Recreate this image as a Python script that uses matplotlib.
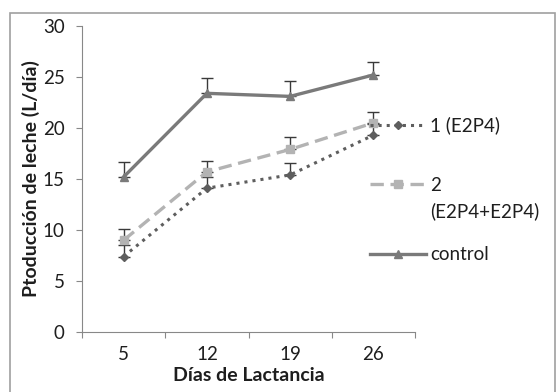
import matplotlib.pyplot as plt
import matplotlib.patches as patches
import numpy as np

plt.rcParams['font.family'] = ['Lato', 'DejaVu Sans']

dias = ["5", "12", "19", "26"]
trat1 = [7.4, 14.1, 15.4, 19.3]
trat1_err = [1.1, 1.1, 1.2, 1.1]
trat2 = [9.0, 15.7, 17.9, 20.5]
trat2_err = [1.1, 1.1, 1.2, 1.1]
control = [15.2, 23.4, 23.1, 25.2]
control_err = [1.5, 1.5, 1.5, 1.3]

x = np.arange(len(dias))

fig = plt.figure(figsize=(5.59, 3.92), dpi=100)
ax = fig.add_axes([82 / 559, 60 / 392, (415 - 82) / 559, (332 - 26) / 392])

# outer frame like the source screenshot
fig.patches.append(patches.Rectangle((10 / 559, -0.05), 545 / 559, 1.05 - 13 / 392,
                                     transform=fig.transFigure, fill=False,
                                     edgecolor="#a0a0a0", linewidth=1.2))

ecol = "#3a3a3a"
for vals, err in [(control, control_err), (trat2, trat2_err), (trat1, trat1_err)]:
    ax.errorbar(x, vals, yerr=[np.zeros(4), err], fmt="none", ecolor=ecol,
                elinewidth=1, capsize=4, capthick=1, zorder=1)

l1, = ax.plot(x, trat1, linestyle=":", color="#5e5e5e", linewidth=2.2, marker="D",
              markersize=4.5, zorder=3)
l2, = ax.plot(x, trat2, linestyle=(0, (4, 2)), color="#b3b3b3", linewidth=2.4, marker="s",
              markersize=6, zorder=3)
l3, = ax.plot(x, control, linestyle="-", color="#7a7a7a", linewidth=2.4, marker="^",
              markersize=6, zorder=2)

ax.set_xlim(-0.5, 3.5)
ax.set_ylim(0, 30)
ax.set_yticks(np.arange(0, 31, 5))
ax.set_xticks(np.arange(-0.5, 4, 1))
ax.set_xticklabels([])
ax.set_xticks(x, minor=True)
ax.set_xticklabels(dias, minor=True)
ax.tick_params(axis="x", which="minor", length=0, pad=10, labelsize=13.5, colors="#1e1e1e")
ax.tick_params(axis="x", which="major", length=4.5, color="#888888")
ax.tick_params(axis="y", length=4.5, color="#888888", labelsize=13.5, labelcolor="#1e1e1e", pad=8)
for s in ["top", "right"]:
    ax.spines[s].set_visible(False)
for s in ["left", "bottom"]:
    ax.spines[s].set_color("#888888")

ax.set_xlabel("Días de Lactancia", fontsize=14, fontweight="bold", labelpad=3, color="#1e1e1e")
ax.set_ylabel("Ptoducción de leche (L/día)", fontsize=14, fontweight="bold", labelpad=2, color="#1e1e1e")

# legend entries placed one by one to the right of the plot
leg_kw = dict(frameon=False, fontsize=13.5, handlelength=3.0, handletextpad=0.2,
              borderaxespad=0, borderpad=0, labelcolor="#1e1e1e")
leg1 = ax.legend([l1], ["1 (E2P4)"], loc="center left", bbox_to_anchor=(0.865, 0.676), **leg_kw)
ax.add_artist(leg1)
leg2 = ax.legend([l2], ["2\n(E2P4+E2P4)"], loc="upper left", bbox_to_anchor=(0.865, 0.505), **leg_kw)
leg2.get_texts()[0].set_linespacing(1.55)
for row in leg2._legend_handle_box.get_children()[0].get_children():
    row.align = "top"
ax.add_artist(leg2)
ax.legend([l3], ["control"], loc="center left", bbox_to_anchor=(0.865, 0.252), **leg_kw)

fig.savefig("out.png", dpi=100)
